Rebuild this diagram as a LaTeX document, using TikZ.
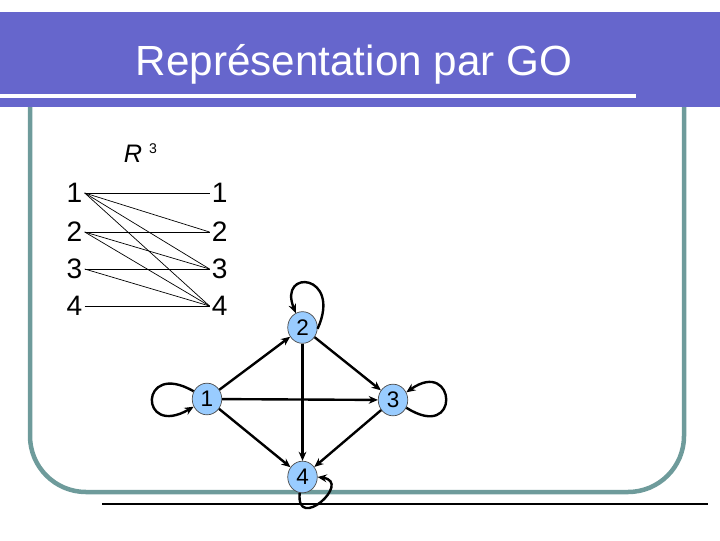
\documentclass[tikz,border=0pt]{standalone}
\usepackage{fontspec}
\setmainfont{Liberation Sans}
\usetikzlibrary{arrows.meta, positioning, shapes.geometric}
\definecolor{TitleViolet}{HTML}{6666CC}
\definecolor{FrameTeal}{HTML}{6E9B9B}
\definecolor{VertexBlue}{HTML}{99CCFF}

\begin{document}
\begin{tikzpicture}[x=0.025cm, y=-0.025cm,
    digit/.style={
        inner sep=1.5pt, font=\fontsize{20}{24}\selectfont
    },
    vertex/.style={
        ellipse, draw=black!70, fill=VertexBlue, line width=0.5pt,
        minimum width=21pt, minimum height=22.5pt, inner sep=0pt,
        font=\fontsize{16}{18}\selectfont
    },
    pair/.style={
        line width=0.5pt, color=black
    },
    arc/.style={
        -{Stealth[length=6.5pt,width=5.5pt]}, line width=1.7pt, color=black
    },
    frame/.style={
        draw=FrameTeal, line width=3.2pt, rounded corners=1.4cm
    }
]
    \useasboundingbox (0,0) rectangle (720,540);

    % Frame and title bar
    \draw[frame] (30,100) -- (30,492) -- (684,492) -- (684,100);
    \fill[TitleViolet] (0,12) rectangle (720,107);
    \fill[white] (0,94) rectangle (636,98);
    \node[font=\fontsize{30}{36}\selectfont, text=white] (title) at (354,64) {Représentation par GO};
    \draw[line width=2.1pt] (102,504) -- (708,504);

    % Relation R^3
    \node[inner sep=0pt, font=\fontsize{18}{20}\selectfont\itshape] (rel) at (133,154) {R};
    \node[inner sep=0pt, anchor=north west, font=\fontsize{10}{11}\selectfont] (relexp) at ([xshift=4.5pt,yshift=1pt]rel.north east) {3};

    \node[digit] (l1) at (74.5,193) {1};
    \node[digit] (l2) at (74.5,232) {2};
    \node[digit] (l3) at (74.5,269) {3};
    \node[digit] (l4) at (74.5,306) {4};

    \node[digit, right=3.12cm of l1] (r1) {1};
    \node[digit, right=3.12cm of l2] (r2) {2};
    \node[digit, right=3.12cm of l3] (r3) {3};
    \node[digit, right=3.12cm of l4] (r4) {4};

    \draw[pair] (l1.east) -- (r1.west);
    \draw[pair] (l1.east) -- (r2.west);
    \draw[pair] (l1.east) -- (r3.west);
    \draw[pair] (l1.east) -- (r4.west);
    \draw[pair] (l2.east) -- (r2.west);
    \draw[pair] (l2.east) -- (r3.west);
    \draw[pair] (l2.east) -- (r4.west);
    \draw[pair] (l3.east) -- (r3.west);
    \draw[pair] (l3.east) -- (r4.west);
    \draw[pair] (l4.east) -- (r4.west);

    % Graph
    \node[vertex] (n1) at (207,399) {1};
    \node[vertex] (n2) at (302.5,327.5) {2};
    \node[vertex] (n3) at (393,400) {3};
    \node[vertex] (n4) at (302.5,477) {4};

    \draw[arc] (n1) -- (n2);
    \draw[arc] (n1) -- (n3);
    \draw[arc] (n1) -- (n4);
    \draw[arc] (n2) -- (n3);
    \draw[arc, line width=1.5pt] (n2) -- (n4);
    \draw[arc] (n3) -- (n4);

    % Loops
    \draw[arc] (n2.-5) .. controls +(25,-55) and +(-18,-45) .. (n2.115);
    \draw[arc] (n1.150) .. controls +(-55,-32) and +(-55,32) .. (n1.210);
    \draw[arc] (n3.-30) .. controls +(55,35) and +(50,-35) .. (n3.30);
    \draw[arc] (n4.-100) .. controls +(-4,40) and +(35,5) .. (n4.east);

\end{tikzpicture}
\end{document}
